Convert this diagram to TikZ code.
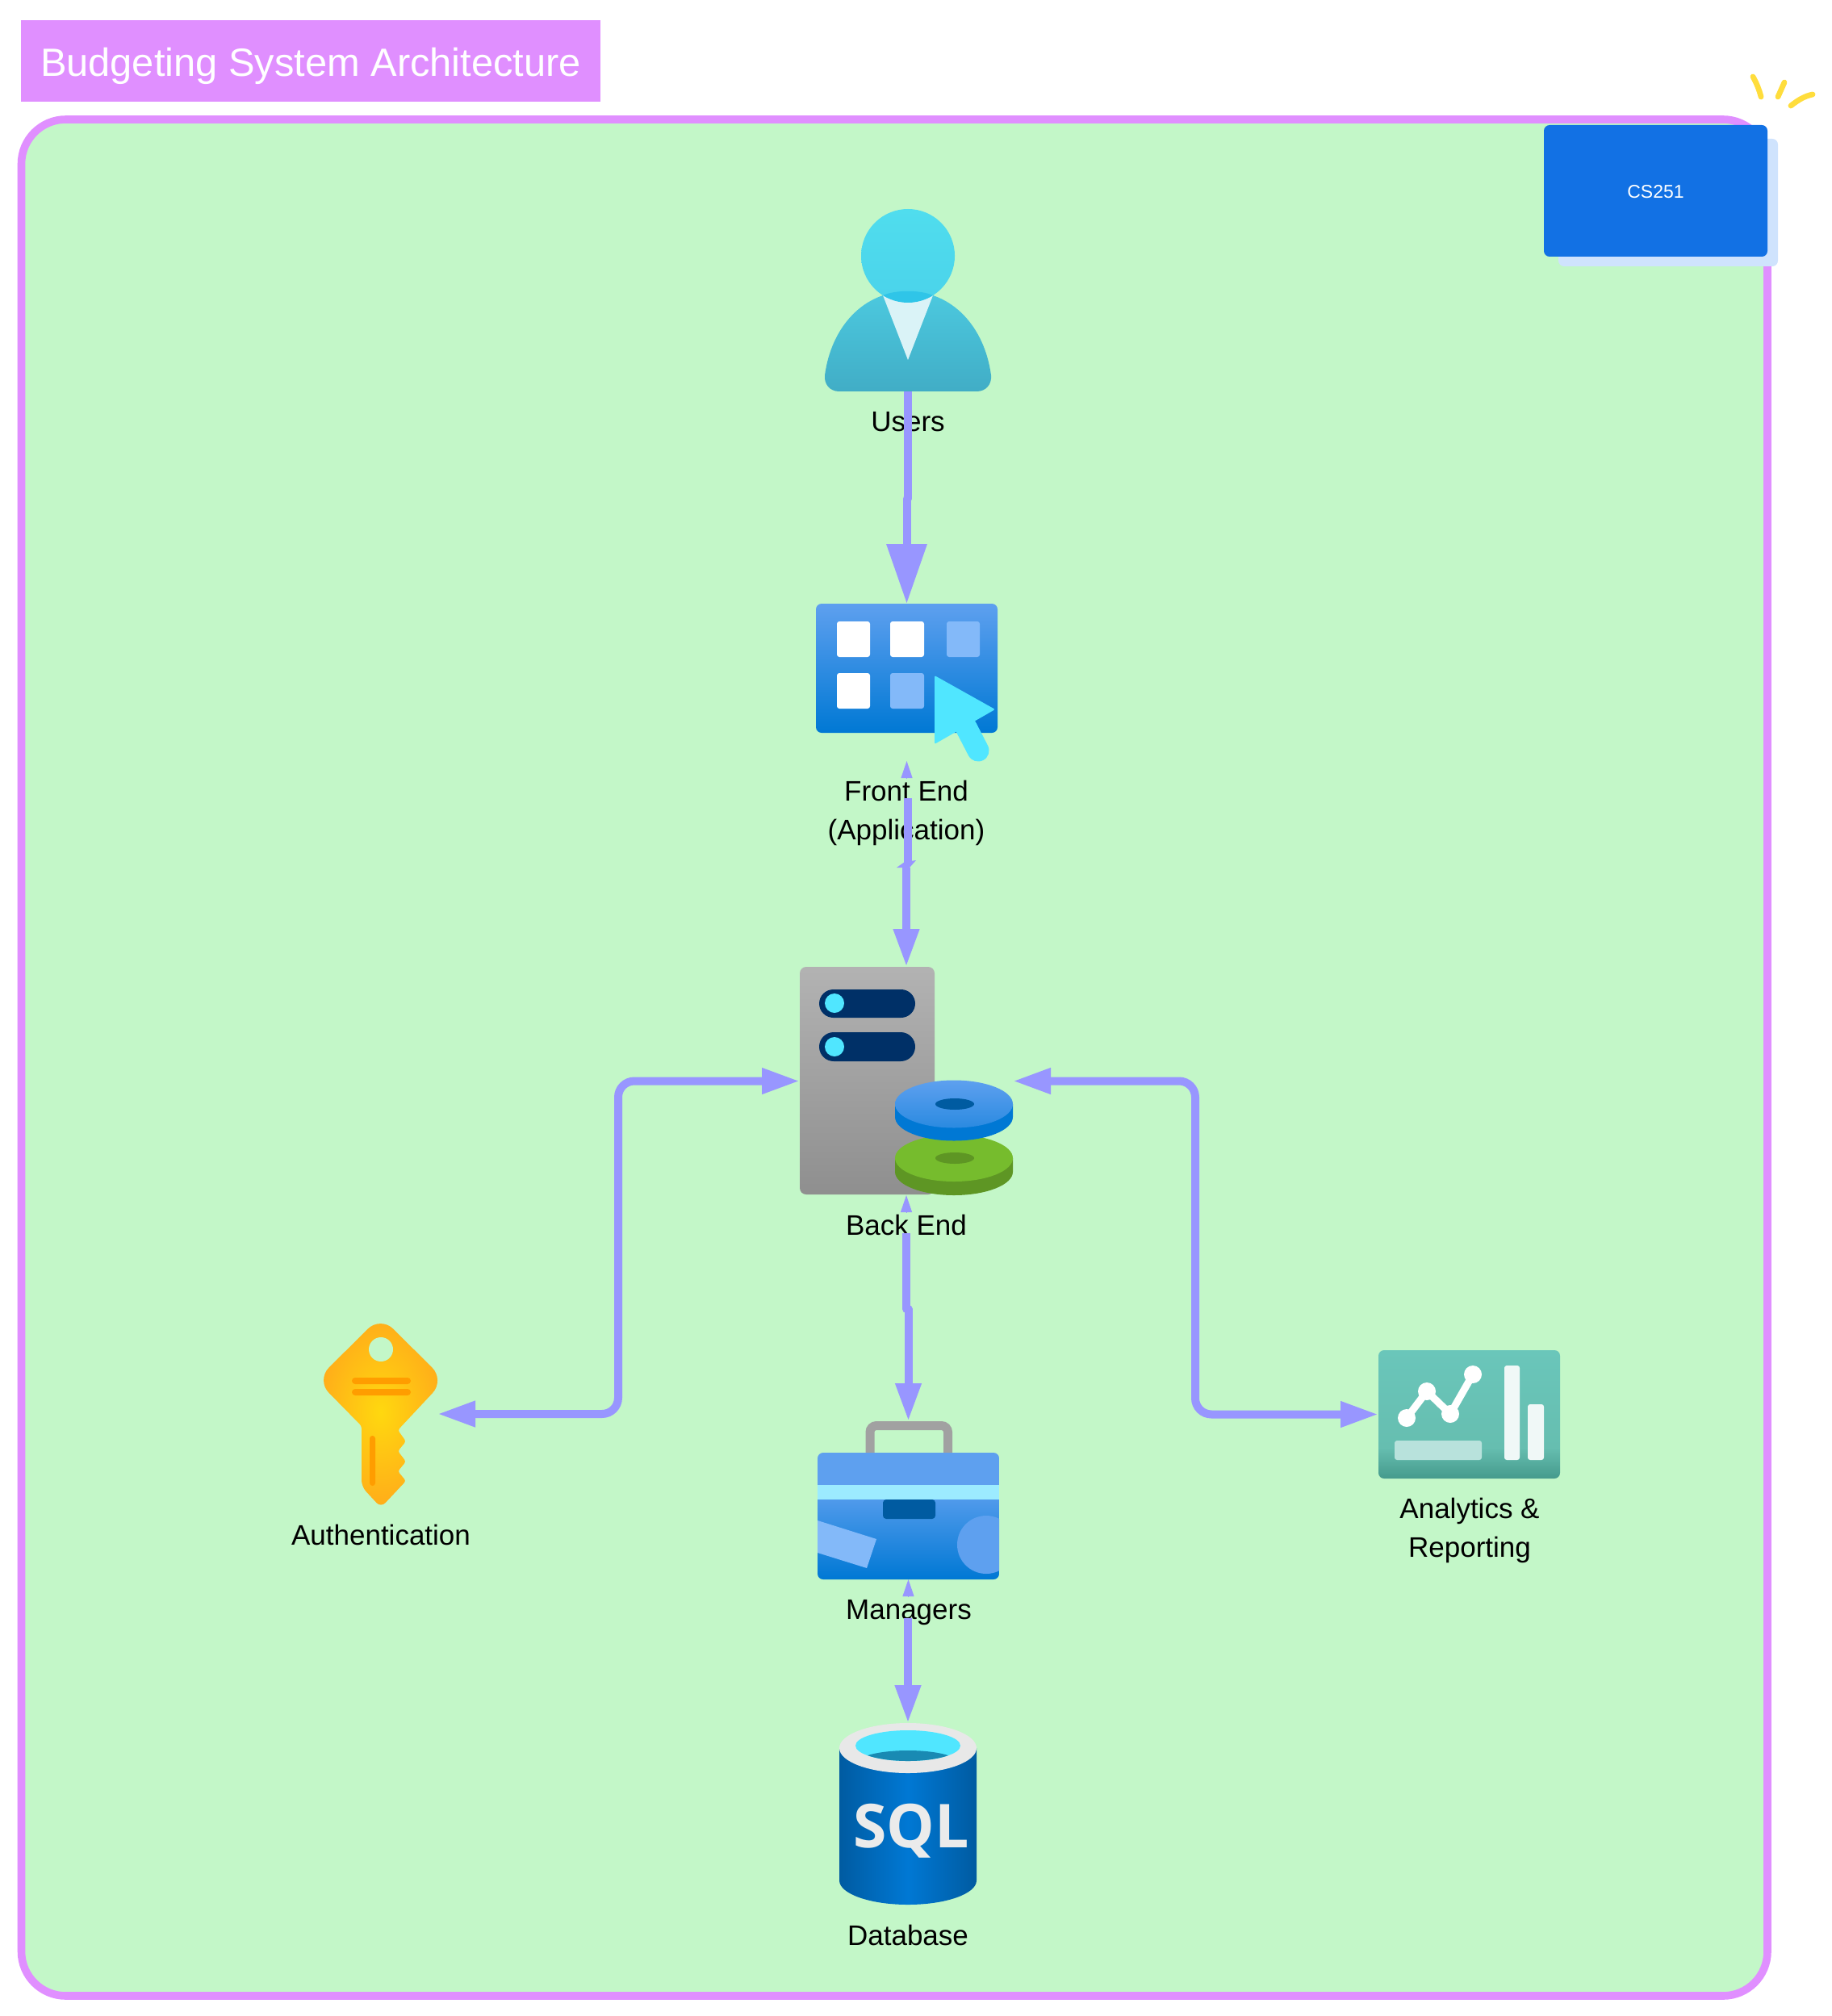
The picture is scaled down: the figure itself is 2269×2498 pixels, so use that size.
\documentclass[tikz,border=0pt]{standalone}
\usepackage{fontspec}
\setmainfont{Liberation Sans}
\newfontfamily\sqlfont{Open Sans}
\usetikzlibrary{arrows.meta,positioning}

\definecolor{framepink}{HTML}{E08FFF}
\definecolor{framegreen}{HTML}{C3F7C8}
\definecolor{flowblue}{HTML}{9896FF}
\definecolor{badgeblue}{HTML}{1271E4}
\definecolor{badgeshade}{HTML}{CFE3FD}
\definecolor{sparkyellow}{HTML}{FFDD3C}
\definecolor{azurelight}{HTML}{5EA0EF}
\definecolor{azure}{HTML}{0078D4}
\definecolor{azuredark}{HTML}{005BA1}
\definecolor{paleblue}{HTML}{83B9F9}
\definecolor{cyanish}{HTML}{50E6FF}
\definecolor{navy}{HTML}{003067}
\definecolor{leafgreen}{HTML}{76BC2D}
\definecolor{leafdark}{HTML}{5E9624}
\definecolor{keyorange}{HTML}{FF9D00}
\definecolor{keyyellow}{HTML}{FFD80F}
\definecolor{keyedge}{HTML}{FFAC1A}
\definecolor{bodytop}{HTML}{4CC9DF}
\definecolor{bodylow}{HTML}{41ADC6}
\definecolor{headtop}{HTML}{50DDEE}
\definecolor{headlow}{HTML}{4AD3EA}
\definecolor{overlap}{HTML}{2FC5E8}
\definecolor{tiewhite}{HTML}{DAF3F7}
\definecolor{reporttop}{HTML}{6AC6BA}
\definecolor{reportmid}{HTML}{66BEB0}
\definecolor{reportlow}{HTML}{459A8C}
\definecolor{reportbar}{HTML}{F0F8F7}
\definecolor{reportpale}{HTML}{B8E2DC}
\definecolor{strapblue}{HTML}{9CEBFF}
\definecolor{wellblue}{HTML}{198AB3}

\pgfdeclareverticalshading{reportfade}{100bp}{color(0bp)=(reportlow); color(25bp)=(reportlow);
  color(37bp)=(reportmid); color(75bp)=(reporttop); color(100bp)=(reporttop)}

\tikzset{
  iconbox/.style={minimum width=#1, inner sep=0pt, outer sep=0pt},
  caption/.style={font=\fontsize{17.5}{24}\selectfont, align=center, inner sep=0pt, text=black},
  flow/.style={draw=flowblue, line width=5pt, line join=round},
  bigtip/.style={-{Triangle[length=23.5pt,width=15pt]}},
  hugetip/.style={-{Triangle[length=37pt,width=24pt]}},
  bothtips/.style={{Triangle[length=23.5pt,width=15pt]}-{Triangle[length=23.5pt,width=15pt]}},
  smalltip/.style={{Triangle[length=10.5pt,width=7pt]}-},
  flowtip/.style={draw=flowblue, line width=0.5pt, smalltip},
  tile/.style={rounded corners=1.5pt},
}

\begin{document}
\begin{tikzpicture}[x=0.5pt,y=-0.5pt]
  \useasboundingbox (0,0) rectangle (2269,2498);

  % frame, title, badge
  \draw[framepink, line width=4.8pt, fill=framegreen, rounded corners=27.5pt]
    (26.5,148) rectangle (2190,2473);
  \node[fill=framepink, text=white, minimum width=359pt, minimum height=50.5pt, inner sep=0pt,
        text height=23.5pt, text depth=4pt,
        font=\fontsize{24.4}{28}\selectfont] (title) at (385,75.5) {Budgeting System Architecture};
  \fill[badgeshade, rounded corners=3.5pt] (1931,172) rectangle (2203,330);
  \node[fill=badgeblue, text=white, rounded corners=3.5pt, minimum width=138.5pt, minimum height=81.5pt,
        inner sep=0pt, text height=9.5pt, text depth=0.5pt, font=\fontsize{11.5}{14}\selectfont] (badge) at (2051.5,236.5) {CS251};
  \draw[sparkyellow, line width=3.4pt, line cap=round] (2172,95) .. controls (2177,104) and (2180,112) .. (2182,120);
  \draw[sparkyellow, line width=3.4pt, line cap=round] (2211,102) -- (2203,120);
  \draw[sparkyellow, line width=3.4pt, line cap=round] (2219,131) .. controls (2228,124) and (2236,119) .. (2246,117);

  % anchors of the icons
  \node[iconbox=103pt, minimum height=112.5pt] (users) at (1125,372.5) {};
  \node[iconbox=112.5pt, minimum height=97.5pt] (front) at (1123.5,845.5) {};
  \node[iconbox=132pt, minimum height=141.5pt] (back) at (1123,1339.5) {};
  \node[iconbox=70.5pt, minimum height=112pt] (auth) at (471.5,1752) {};
  \node[iconbox=112.5pt, minimum height=79.5pt] (report) at (1820.5,1752.5) {};
  \node[iconbox=112.5pt, minimum height=98pt] (managers) at (1125.5,1859) {};
  \node[iconbox=85pt, minimum height=112.5pt] (sqldb) at (1125,2247.5) {};

  % captions
  \node[caption] (usersl) at (1125,523) {Users};
  \node[caption] (frontl) at (1123,1007) {Front End\\(Application)};
  \node[caption] (backl) at (1123,1518) {Back End};
  \node[caption] (authl) at (472,1902) {Authentication};
  \node[caption] (reportl) at (1821,1896) {Analytics \&\\Reporting};
  \node[caption] (managersl) at (1126,1998) {Managers};
  \node[caption] (sqldbl) at (1125,2398) {Database};

  % users
  \shade[top color=bodytop, bottom color=bodylow]
    (1040,485) .. controls (1028,485) and (1021,476) .. (1022,465) .. controls (1030,405) and (1070,361) .. (1125,361)
    .. controls (1180,361) and (1220,405) .. (1228,465) .. controls (1229,476) and (1222,485) .. (1210,485) -- cycle;
  \shade[top color=headtop, bottom color=headlow] (1125,317) circle [radius=58];
  \fill[tiewhite] (1094,366) .. controls (1112,377) and (1138,377) .. (1156,366) -- (1125,446) -- cycle;
  \begin{scope}
    \clip (1125,317) circle [radius=58];
    \fill[overlap] (1094,366) .. controls (1110,359) and (1140,359) .. (1156,366) -- (1156,380) -- (1094,380) -- cycle;
  \end{scope}

  % front end
  \shade[top color=azurelight, bottom color=azure, rounded corners=3.5pt] (1011,748) rectangle (1236,908);
  \fill[white, tile] (1037,770) rectangle (1078,814);
  \fill[white, tile] (1103,770) rectangle (1145,814);
  \fill[paleblue, tile] (1173,770) rectangle (1214,814);
  \fill[white, tile] (1037,834) rectangle (1078,878);
  \fill[paleblue, tile] (1103,834) rectangle (1145,878);
  \draw[cyanish, line width=13.5pt, line cap=round] (1197,901) -- (1212,930);
  \fill[cyanish, rounded corners=1pt] (1158,837) -- (1233,879) -- (1158,922) -- cycle;

  % back end
  \shade[top color=black!30, bottom color=black!44, rounded corners=4pt] (991,1198) rectangle (1158,1480);
  \fill[navy, rounded corners=8.8pt] (1015,1226) rectangle (1134,1261);
  \fill[navy, rounded corners=9pt] (1015,1279) rectangle (1134,1315);
  \fill[cyanish] (1034,1243) circle [radius=12];
  \fill[cyanish] (1034,1297) circle [radius=12];
  \fill[leafdark] (1109,1435) -- (1109,1452) arc [start angle=180, end angle=360, x radius=73, y radius=-29] -- (1255,1435) -- cycle;
  \fill[leafgreen] (1182,1435) ellipse [x radius=73, y radius=29];
  \fill[leafdark] (1183,1435) ellipse [x radius=24, y radius=7];
  \fill[azure] (1109,1368) -- (1109,1384) arc [start angle=180, end angle=360, x radius=73, y radius=-29.5] -- (1255,1368) -- cycle;
  \shade[left color=azurelight, right color=azurelight!45!azure, shading angle=0] (1182,1368) ellipse [x radius=73, y radius=29.5];
  \fill[azuredark] (1183,1368) ellipse [x radius=24, y radius=7];

  % authentication
  \shade[shading=radial, inner color=keyyellow, outer color=keyedge]
    (471.5,1631) [rounded corners=11pt] -- (551,1710) [rounded corners=1.5pt] -- (493,1772) -- (503,1786) -- (493,1798) -- (503,1811) -- (493,1823) -- (503,1835)
    [rounded corners=4pt] -- (472,1868) -- (448,1842) [rounded corners=1.5pt] -- (448,1767) [rounded corners=11pt] -- (392,1710) -- cycle;
  \fill[framegreen] (472,1672) circle [radius=15];
  \fill[keyorange, rounded corners=2pt] (436,1707) rectangle (509,1715);
  \fill[keyorange, rounded corners=2pt] (436,1721) rectangle (509,1729);
  \fill[keyorange, rounded corners=1.7pt] (458,1779) rectangle (465,1841);

  % analytics
  \shade[shading=reportfade, rounded corners=3.5pt] (1708,1673) rectangle (1933,1832);
  \draw[white, line width=4.5pt] (1743,1757) -- (1768,1724) -- (1797,1752) -- (1825,1703);
  \foreach \px/\py in {1743/1757, 1768/1724, 1797/1752, 1825/1703}
    \fill[white] (\px,\py) circle [radius=11];
  \fill[reportbar, tile] (1864,1692) rectangle (1883,1809);
  \fill[reportbar, tile] (1893,1740) rectangle (1913,1809);
  \fill[reportpale, tile] (1728,1785) rectangle (1836,1809);

  % managers
  \draw[black!37, line width=5.5pt, rounded corners=4pt] (1078,1802) -- (1078,1766.5) -- (1174.5,1766.5) -- (1174.5,1802);
  \begin{scope}
    \clip[rounded corners=3.5pt] (1013,1800) rectangle (1238,1957);
    \shade[top color=azurelight, bottom color=azure] (1013,1840) rectangle (1238,1957);
    \fill[azurelight] (1013,1800) rectangle (1238,1840);
    \fill[strapblue] (1013,1840) rectangle (1238,1858);
    \fill[paleblue] (1013,1884) -- (1086,1907) -- (1074,1943) -- (1013,1924) -- cycle;
    \fill[azurelight] (1222,1914) circle [radius=36];
  \end{scope}
  \fill[azuredark, rounded corners=2pt] (1094,1858) -- (1094,1882) -- (1159,1882) -- (1159,1858) -- cycle;

  % database
  \shade[left color=azuredark, right color=azuredark, middle color=azure]
    (1040,2166) -- (1040,2330) arc [start angle=180, end angle=360, x radius=85, y radius=-30] -- (1210,2166) -- cycle;
  \fill[black!9] (1125,2166) ellipse [x radius=85, y radius=31];
  \fill[cyanish] (1125,2163) ellipse [x radius=65, y radius=19];
  \begin{scope}
    \clip (1125,2163) ellipse [x radius=65, y radius=19];
    \fill[wellblue] (1125,2184) ellipse [x radius=62, y radius=15];
  \end{scope}
  \node[text=black!8, inner sep=0pt, font=\sqlfont\bfseries\fontsize{37.5}{40}\selectfont] (sqltext) at (1129,2269) {SQL};

  % connectors
  \coordinate (ufjog) at (1125,618);
  \coordinate (fbtop) at (1125,989);
  \coordinate (fbmid) at (1125,1070);
  \coordinate (fblow) at (1123,1075);
  \coordinate (bmtop) at (1123,1528);
  \coordinate (bmjog) at (1123,1622);
  \coordinate (mdtop) at (1125,2005);
  \coordinate (leftbus) at (766,1339.5);
  \coordinate (rightbus) at (1481,1339.5);

  \draw[flow, hugetip] (users.south) -- (ufjog) -- (ufjog -| front.north) -- (front.north);

  \draw[flowtip] (front.south) -- ++(0,21);
  \draw[flow] (fbtop) -- (fbmid);
  \fill[flowblue] (1111,1075) -- (1121,1068) -- (1135,1066) -- (1127,1075) -- cycle;
  \draw[flow, bigtip] (fblow) -- (back.north);

  \draw[flowtip] (back.south) -- ++(0,21);
  \draw[flow, bigtip] (bmtop) -- (bmjog) -- (bmjog -| managers.north) -- (managers.north);

  \draw[flowtip] (managers.south) -- ++(0,21);
  \draw[flow, bigtip] (mdtop) -- (sqldb.north);

  \draw[flow, rounded corners=10pt, bothtips] (auth.east) -| (leftbus) -- (back.west);
  \draw[flow, rounded corners=10pt, bothtips] (back.east) -- (rightbus) |- (report.west);
\end{tikzpicture}
\end{document}
